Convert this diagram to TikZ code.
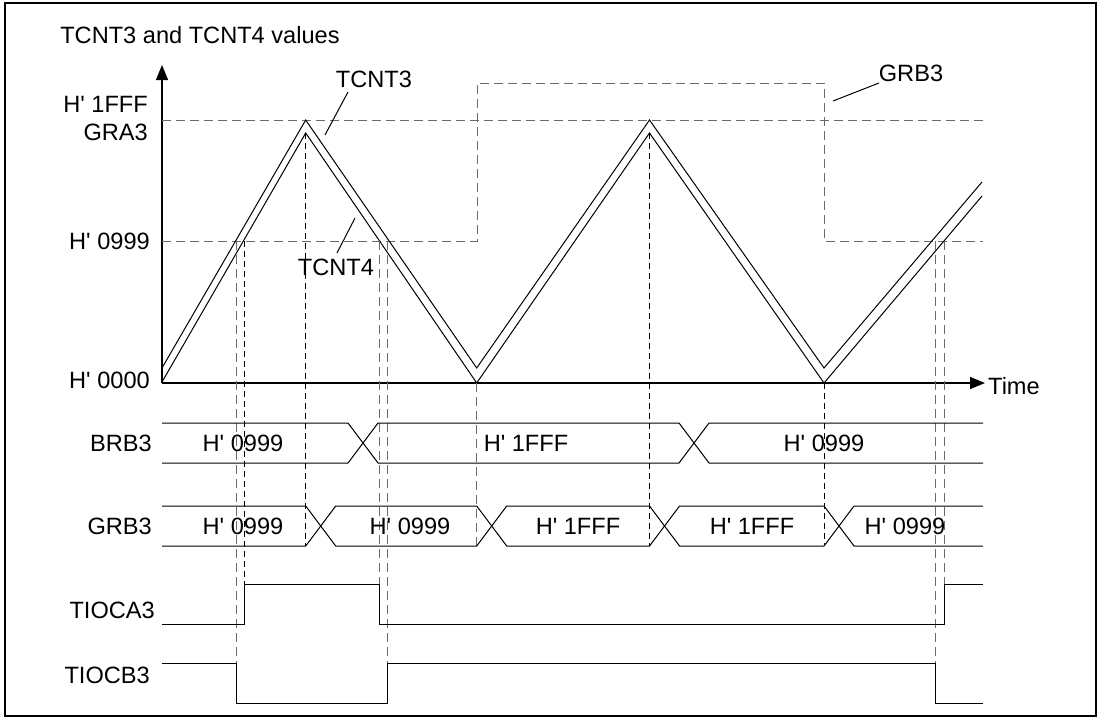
\documentclass[tikz,border=0pt]{standalone}
\usepackage{fontspec}
\setmainfont{Liberation Sans}
\usetikzlibrary{arrows.meta}
\definecolor{guidegray}{HTML}{6A6A6A}
\newcommand{\hv}[1]{H\textquotesingle\ #1}

\begin{document}
\begin{tikzpicture}[
  x=1pt, y=-1pt,
  lbl/.style={font=\fontsize{23.6pt}{28pt}\selectfont, inner sep=0pt},
  wave/.style={line width=1pt},
  sig/.style={line width=1pt},
  guide/.style={draw=guidegray, line width=1pt, dash pattern=on 9pt off 5pt},
  guideb/.style={draw=black, line width=0.9pt, dash pattern=on 6pt off 4pt},
  axis/.style={line width=1.2pt, -{Triangle[length=15pt,width=12pt]}},
  ptr/.style={line width=1pt}
]
\useasboundingbox (0,0) rectangle (1100,720);
\draw[line width=1.2pt] (5,3) rectangle (1096,716);

% axes
\coordinate (o) at (162,383);
\draw[axis] (o) -- (162,65);
\draw[axis] (o) -- (985,383);
\node[lbl] (yname) at (200,35) {TCNT3 and TCNT4 values};
\node[lbl, anchor=west] (time) at (988,386) {Time};

% levels
\node[lbl, anchor=east] (l1fff) at (148,104) {\hv{1FFF}};
\node[lbl, anchor=east] (lgra) at (148,132) {GRA3};
\node[lbl, anchor=east] (l0999) at (150,241) {\hv{0999}};
\node[lbl, anchor=east] (l0000) at (150,380) {\hv{0000}};
\draw[guide] (162,120) -- (983,120);
\draw[guide] (162,241) -- (477,241) -- (477,83) -- (824,83) -- (824,241) -- (983,241);

% TCNT3 (upper) and TCNT4 (lower)
\draw[wave] (162,368) -- (305.7,120) -- (476.7,368) -- (649.5,120) -- (824,368) -- (982,182);
\draw[wave] (162,382) -- (305.7,133) -- (476.7,383) -- (649.5,133) -- (824,383) -- (982,196);

% compare match guides
\draw[guide] (236.5,241) -- (236.5,703);
\draw[guideb] (244.5,241) -- (244.5,584);
\draw[guideb] (305.7,133) -- (305.7,546);
\draw[guide] (379,241) -- (379,584);
\draw[guide] (387,241) -- (387,663);
\draw[guide] (476.7,383) -- (476.7,546);
\draw[guideb] (649.5,133) -- (649.5,546);
\draw[guideb] (824,383) -- (824,546);
\draw[guide] (935,241) -- (935,663);
\draw[guide] (944,241) -- (944,584);

% pointers
\node[lbl] (tcnt3) at (374,79) {TCNT3};
\coordinate (t3a) at (348,92);
\coordinate (t3b) at (325,135);
\draw[ptr] (t3a) -- (t3b);
\node[lbl] (tcnt4) at (336,267) {TCNT4};
\coordinate (t4a) at (337,253);
\coordinate (t4b) at (355,218);
\draw[ptr] (t4a) -- (t4b);
\node[lbl] (grb) at (911,73) {GRB3};
\coordinate (gba) at (879,83);
\coordinate (gbb) at (833,101);
\draw[ptr] (gba) -- (gbb);

% BRB3
\node[lbl, anchor=east] (nbrb) at (152,443) {BRB3};
\draw[sig] (162,423) -- (348,423) -- (378,463) -- (679,463) -- (709,423) -- (983,423);
\draw[sig] (162,463) -- (348,463) -- (378,423) -- (679,423) -- (709,463) -- (983,463);
\node[lbl] (b1) at (243,443) {\hv{0999}};
\node[lbl] (b2) at (526,443) {\hv{1FFF}};
\node[lbl] (b3) at (824,443) {\hv{0999}};

% GRB3
\node[lbl, anchor=east] (ngrb) at (152,526) {GRB3};
\draw[sig] (162,506) -- (305.7,506) -- (335.7,546) -- (476.7,546) -- (506.7,506) -- (649.5,506) -- (679.5,546) -- (824,546) -- (854,506) -- (983,506);
\draw[sig] (162,546) -- (305.7,546) -- (335.7,506) -- (476.7,506) -- (506.7,546) -- (649.5,546) -- (679.5,506) -- (824,506) -- (854,546) -- (983,546);
\node[lbl] (g1) at (243,526) {\hv{0999}};
\node[lbl] (g2) at (410,526) {\hv{0999}};
\node[lbl] (g3) at (578,526) {\hv{1FFF}};
\node[lbl] (g4) at (752,526) {\hv{1FFF}};
\node[lbl] (g5) at (905,526) {\hv{0999}};

% outputs
\node[lbl, anchor=east] (nca) at (155,610) {TIOCA3};
\draw[sig] (162,624) -- (244.5,624) -- (244.5,584) -- (379,584) -- (379,624) -- (944,624) -- (944,584) -- (983,584);
\node[lbl, anchor=east] (ncb) at (150,675) {TIOCB3};
\draw[sig] (162,663) -- (236.5,663) -- (236.5,703) -- (387,703) -- (387,663) -- (935,663) -- (935,703) -- (983,703);
\end{tikzpicture}
\end{document}
